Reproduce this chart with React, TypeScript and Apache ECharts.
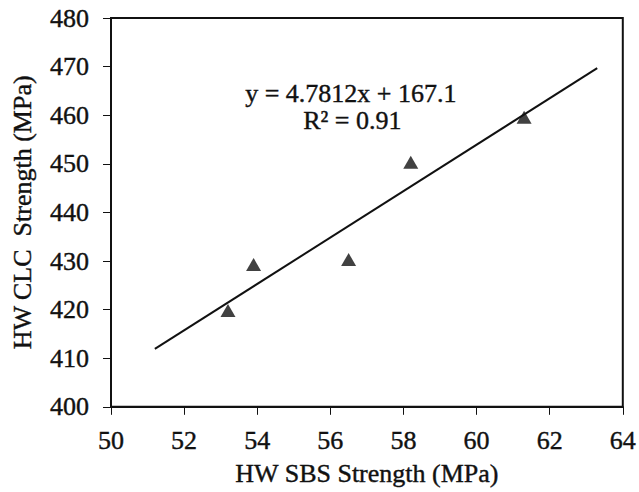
import React, { useEffect, useRef } from "react";
import * as echarts from "echarts";

const sbsStrength = [53.2, 53.9, 56.5, 58.2, 61.3];
const clcStrength = [419.8, 429.3, 430.3, 450.3, 459.6];
const trendX = [51.2, 63.3];
const trendY = [411.9, 469.7];
const equationText = "y = 4.7812x + 167.1";
const r2Text = "R² = 0.91";
const xTitle = "HW SBS Strength (MPa)";
const yTitle = "HW CLC\u00a0 Strength (MPa)";

const FONT = "'Liberation Serif', 'Times New Roman', serif";
const INK = "#111111";
const FS = 26;
const textHeavy = { textBorderColor: INK, textBorderWidth: 0.4 };

export default function App() {
  const ref = useRef<HTMLDivElement>(null);
  useEffect(() => {
    document.body.style.margin = "0";
    const chart = echarts.init(ref.current!, undefined, { renderer: "svg" });
    chart.setOption({
      animation: false,
      backgroundColor: "#ffffff",
      grid: {
        left: 111,
        right: 15,
        top: 18,
        bottom: 85,
        show: true,
        borderColor: INK,
        borderWidth: 2,
        backgroundColor: "transparent",
      },
      xAxis: {
        type: "value",
        min: 50,
        max: 64,
        interval: 2,
        name: xTitle,
        nameLocation: "middle",
        nameGap: 54,
        nameTextStyle: { fontFamily: FONT, fontSize: FS, color: INK, ...textHeavy },
        axisLine: { show: true, lineStyle: { color: INK, width: 2 } },
        axisTick: { show: true, length: 8, lineStyle: { color: INK, width: 1 } },
        axisLabel: { fontFamily: FONT, fontSize: FS, color: INK, margin: 21, ...textHeavy },
        splitLine: { show: false },
      },
      yAxis: {
        type: "value",
        min: 400,
        max: 480,
        interval: 10,
        name: yTitle,
        nameLocation: "middle",
        nameGap: 76,
        nameTextStyle: { fontFamily: FONT, fontSize: FS, color: INK, ...textHeavy },
        axisLine: { show: true, lineStyle: { color: INK, width: 2 } },
        axisTick: { show: true, length: 8, lineStyle: { color: INK, width: 1 } },
        axisLabel: { fontFamily: FONT, fontSize: FS, color: INK, margin: 22, ...textHeavy },
        splitLine: { show: false },
      },
      series: [
        {
          type: "line",
          data: trendX.map((x, i) => [x, trendY[i]]),
          showSymbol: false,
          symbol: "none",
          lineStyle: { color: INK, width: 2 },
          z: 2,
        },
        {
          type: "scatter",
          data: sbsStrength.map((x, i) => [x, clcStrength[i]]),
          symbol: "triangle",
          symbolSize: [15, 13],
          itemStyle: { color: INK },
          z: 3,
        },
      ],
      graphic: [
        {
          type: "text",
          left: 245,
          top: 80,
          style: { text: equationText, font: `${FS}px ${FONT}`, fill: INK, stroke: INK, lineWidth: 0.4 },
        },
        {
          type: "text",
          left: 303,
          top: 107,
          style: { text: r2Text, font: `${FS}px ${FONT}`, fill: INK, stroke: INK, lineWidth: 0.4 },
        },
      ],
    });
    return () => chart.dispose();
  }, []);
  return <div ref={ref} style={{ width: 639, height: 492 }} />;
}
